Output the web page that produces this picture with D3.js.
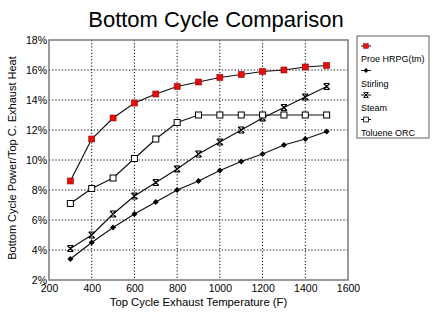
<!DOCTYPE html>
<html>
<head>
<meta charset="utf-8">
<script src="https://cdn.jsdelivr.net/npm/d3@7"></script>
<style>
  body { margin: 0; background: #fff; }
  svg { display: block; font-family: Arial, "Liberation Sans", sans-serif; }
  .grid line { stroke: #000; stroke-dasharray: 1.2 2; stroke-width: 1; }
  .tick text { font-size: 10.5px; fill: #000; }
</style>
</head>
<body>
<svg id="chart" width="439" height="325"></svg>
<script>
var temps = [300, 400, 500, 600, 700, 800, 900, 1000, 1100, 1200, 1300, 1400, 1500];
var proe     = [8.6, 11.4, 12.8, 13.8, 14.4, 14.9, 15.2, 15.5, 15.7, 15.9, 16.0, 16.2, 16.3];
var stirling = [3.4, 4.5, 5.5, 6.4, 7.2, 8.0, 8.6, 9.3, 9.9, 10.4, 11.0, 11.4, 11.9];
var steam    = [4.1, 5.0, 6.4, 7.6, 8.5, 9.4, 10.4, 11.2, 12.0, 12.8, 13.5, 14.2, 14.9];
var toluene  = [7.1, 8.1, 8.8, 10.1, 11.4, 12.5, 13.0, 13.0, 13.0, 13.0, 13.0, 13.0, 13.0];
var seriesNames = ["Proe HRPG(tm)", "Stirling", "Steam", "Toluene ORC"];
var xTicks = [200, 400, 600, 800, 1000, 1200, 1400, 1600];
var yTicks = [2, 4, 6, 8, 10, 12, 14, 16, 18];

var series = [
  {name: seriesNames[0], values: proe, marker: "redsquare"},
  {name: seriesNames[1], values: stirling, marker: "diamond"},
  {name: seriesNames[2], values: steam, marker: "cross"},
  {name: seriesNames[3], values: toluene, marker: "opensquare"}
];

var svg = d3.select("#chart");
var pLeft = 49, pRight = 348, pTop = 40, pBottom = 280;

var x = d3.scaleLinear().domain([200, 1600]).range([pLeft, pRight]);
var y = d3.scaleLinear().domain([2, 18]).range([pBottom, pTop]);

// title
svg.append("text")
  .attr("x", 216).attr("y", 27)
  .attr("text-anchor", "middle")
  .style("font-size", "22px")
  .text("Bottom Cycle Comparison");

// dotted grid
var grid = svg.append("g").attr("class", "grid");
grid.selectAll(".vx").data(xTicks.slice(1, -1)).enter().append("line")
  .attr("x1", function(d){ return x(d); }).attr("x2", function(d){ return x(d); })
  .attr("y1", pTop).attr("y2", pBottom);
grid.selectAll(".hy").data(yTicks.slice(1, -1)).enter().append("line")
  .attr("y1", function(d){ return y(d); }).attr("y2", function(d){ return y(d); })
  .attr("x1", pLeft).attr("x2", pRight);

// axes
var xAxis = svg.append("g")
  .attr("transform", "translate(0," + pBottom + ")")
  .call(d3.axisBottom(x).tickValues(xTicks).tickSize(0).tickPadding(5)
    .tickFormat(d3.format("d")));
xAxis.select(".domain").remove();

var yAxis = svg.append("g")
  .attr("transform", "translate(" + pLeft + ",0)")
  .call(d3.axisLeft(y).tickValues(yTicks).tickSize(0).tickPadding(2)
    .tickFormat(function(d){ return d + "%"; }));
yAxis.select(".domain").remove();

// plot frame
svg.append("rect")
  .attr("x", pLeft).attr("y", pTop)
  .attr("width", pRight - pLeft).attr("height", pBottom - pTop)
  .attr("fill", "none").attr("stroke", "#7a7a7a").attr("stroke-width", 1.5);

svg.append("text")
  .attr("x", (pLeft + pRight) / 2).attr("y", 306)
  .attr("text-anchor", "middle")
  .style("font-size", "11.3px")
  .text("Top Cycle Exhaust Temperature (F)");

svg.append("text")
  .attr("transform", "translate(16,158) rotate(-90)")
  .attr("text-anchor", "middle")
  .style("font-size", "11px")
  .text("Bottom Cycle Power/Top C. Exhaust Heat");

function drawMarker(g, type) {
  if (type === "redsquare") {
    g.append("rect").attr("x", -3).attr("y", -3).attr("width", 6).attr("height", 6)
      .attr("fill", "#e01010").attr("stroke", "#a00000").attr("stroke-width", 0.6);
  } else if (type === "diamond") {
    g.append("path").attr("d", "M0,-3L3,0L0,3L-3,0Z").attr("fill", "#000");
  } else if (type === "cross") {
    g.append("path").attr("d", "M-3,-3L3,3M3,-3L-3,3M-3,-3L3,-3M-3,3L3,3")
      .attr("stroke", "#000").attr("stroke-width", 1.2).attr("fill", "none");
  } else {
    g.append("rect").attr("x", -3).attr("y", -3).attr("width", 6).attr("height", 6)
      .attr("fill", "#fff").attr("stroke", "#000").attr("stroke-width", 1);
  }
}

var line = d3.line()
  .x(function(d, i){ return x(temps[i]); })
  .y(function(d){ return y(d); });

series.forEach(function(s) {
  svg.append("path")
    .datum(s.values)
    .attr("fill", "none")
    .attr("stroke", "#111")
    .attr("stroke-width", 1.2)
    .attr("d", line);
  s.values.forEach(function(v, i) {
    var g = svg.append("g").attr("transform", "translate(" + x(temps[i]) + "," + y(v) + ")");
    drawMarker(g, s.marker);
  });
});

// legend
var legend = svg.append("g");
legend.append("rect")
  .attr("x", 357).attr("y", 36).attr("width", 72).attr("height", 102)
  .attr("fill", "#fff").attr("stroke", "#7a7a7a").attr("stroke-width", 1.2);
series.forEach(function(s, i) {
  var yy = 46 + i * 24.5;
  legend.append("line")
    .attr("x1", 361).attr("x2", 371).attr("y1", yy).attr("y2", yy)
    .attr("stroke", "#111").attr("stroke-width", 1);
  var g = legend.append("g").attr("transform", "translate(366," + yy + ") scale(0.8)");
  drawMarker(g, s.marker);
  legend.append("text")
    .attr("x", 361).attr("y", yy + 16)
    .style("font-size", "9px")
    .text(s.name);
});
</script>
</body>
</html>
